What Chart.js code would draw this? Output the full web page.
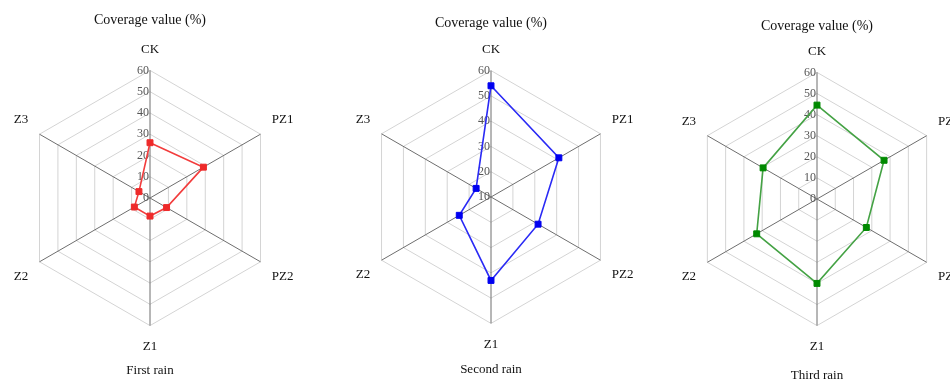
<!DOCTYPE html>
<html>
<head>
<meta charset="utf-8">
<script src="https://cdn.jsdelivr.net/npm/chart.js@4/dist/chart.umd.min.js"></script>
<style>
  html, body { margin: 0; padding: 0; background: #fff; overflow: hidden; width: 950px; height: 380px; }
  #wrap { position: relative; width: 950px; height: 380px; overflow: hidden; }
  canvas { position: absolute; }
</style>
</head>
<body>
<div id="wrap">
  <canvas id="rain1" width="344" height="380" style="left:-22px; top:0px;"></canvas>
  <canvas id="rain2" width="344" height="380" style="left:319px; top:0px;"></canvas>
  <canvas id="rain3" width="344" height="390" style="left:645px; top:0px;"></canvas>
</div>
<script>
// Treatments on the radar spokes (clockwise from top)
const treatments = ['CK', 'PZ1', 'PZ2', 'Z1', 'Z2', 'Z3'];

// Coverage value (%) per treatment, one array per rain event
const firstRain  = [26, 29, 9, 8.5, 8.5, 6];
const secondRain = [54, 41, 31.5, 43, 24.5, 16.8];
const thirdRain  = [44.5, 36.7, 27, 40, 33, 29.5];

const rainNames = ['First rain', 'Second rain', 'Third rain'];
const axisTitle = 'Coverage value (%)';

// Radial axis ranges and tick step
const axisMin = [0, 10, 0];
const axisMax = [60, 60, 60];
const tickStep = 10;

const SERIF = '"Liberation Serif", "Times New Roman", Times, serif';

// Tick values written just left of the vertical spoke, including the centre value
const sideTicks = {
  id: 'sideTicks',
  beforeDatasetsDraw(chart) {
    const s = chart.scales.r;
    const ctx = chart.ctx;
    ctx.save();
    ctx.font = '12px ' + SERIF;
    ctx.fillStyle = '#555';
    ctx.textAlign = 'right';
    ctx.textBaseline = 'middle';
    s.ticks.forEach(t => {
      const d = s.getDistanceFromCenterForValue(t.value);
      ctx.fillText(String(t.value), s.xCenter - 1, s.yCenter - d);
    });
    ctx.restore();
  }
};

function radar(id, values, idx, style) {
  return new Chart(document.getElementById(id), {
    type: 'radar',
    data: {
      labels: treatments,
      datasets: [{
        data: values,
        borderColor: style.line,
        borderWidth: 1.6,
        backgroundColor: 'transparent',
        fill: false,
        pointStyle: 'rect',
        pointRadius: 4.2,
        pointBorderWidth: 1,
        pointBackgroundColor: style.point,
        pointBorderColor: style.point
      }]
    },
    options: {
      responsive: false,
      animation: false,
      layout: { padding: 0 },
      plugins: {
        legend: { display: false },
        tooltip: { enabled: false },
        title: {
          display: true,
          text: axisTitle,
          color: '#111',
          font: { family: SERIF, size: 14, weight: 'normal' },
          padding: style.titlePad
        },
        subtitle: {
          display: true,
          position: 'bottom',
          text: rainNames[idx],
          color: '#111',
          font: { family: SERIF, size: 13, weight: 'normal' },
          padding: style.subPad
        }
      },
      scales: {
        r: {
          min: axisMin[idx],
          max: axisMax[idx],
          beginAtZero: false,
          ticks: { display: false, stepSize: tickStep },
          grid: { circular: false, color: '#d4d4d4', lineWidth: 1 },
          angleLines: { display: true, color: '#6e6e6e', lineWidth: 1 },
          pointLabels: {
            display: true,
            color: '#111',
            padding: 13,
            font: { family: SERIF, size: 13, weight: 'normal' }
          }
        }
      }
    },
    plugins: [sideTicks]
  });
}

radar('rain1', firstRain, 0, {
  line: '#f23c3c', point: '#ee2a2a',
  titlePad: { top: 12, bottom: 13 }, subPad: { top: 8, bottom: 1.6 }
});
radar('rain2', secondRain, 1, {
  line: '#2a2af5', point: '#0000f0',
  titlePad: { top: 15, bottom: 10.2 }, subPad: { top: 8.5, bottom: 2.9 }
});
radar('rain3', thirdRain, 2, {
  line: '#44a244', point: '#008a00',
  titlePad: { top: 18.3, bottom: 8.7 }, subPad: { top: 13.1, bottom: 6.5 }
});
</script>
</body>
</html>
